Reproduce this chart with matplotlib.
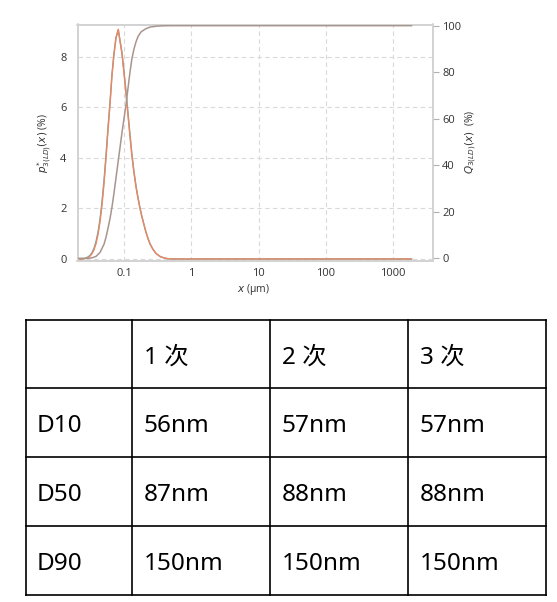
import matplotlib
matplotlib.use("Agg")
import matplotlib.pyplot as plt
from matplotlib.lines import Line2D

# ---------------- data ----------------
pdf_x = [0.0204, 0.02342, 0.02508, 0.02687, 0.02877, 0.03082, 0.03301, 0.03536,
         0.03787, 0.04055, 0.04345, 0.04652, 0.04983, 0.05338, 0.05717, 0.06122,
         0.06557, 0.07024, 0.07522, 0.08139, 0.08629, 0.09240, 0.09897, 0.1060,
         0.1135, 0.1216, 0.1303, 0.1395, 0.1494, 0.1600, 0.1714, 0.1836, 0.1966,
         0.2106, 0.2256, 0.2415, 0.2677, 0.2969, 0.3404, 0.3906, 0.4480, 0.5141,
         1.0, 10.0, 100.0, 1000.0, 1900.0]
pdf_run1 = [0.0, 0.0, 0.01, 0.03, 0.06, 0.11, 0.21, 0.36,
            0.60, 0.96, 1.46, 2.13, 2.97, 3.98, 5.09, 6.10,
            7.25, 8.10, 8.75, 9.08, 8.62, 8.10, 7.35, 6.55,
            5.70, 4.85, 4.05, 3.40, 2.85, 2.40, 2.00, 1.65, 1.35,
            1.05, 0.80, 0.60, 0.38, 0.22, 0.10, 0.04, 0.01, 0.0,
            0.0, 0.0, 0.0, 0.0, 0.0]
pdf_run2 = [0.0, 0.0, 0.01, 0.04, 0.08, 0.14, 0.25, 0.42,
            0.68, 1.05, 1.56, 2.24, 3.08, 4.08, 5.17, 6.17,
            7.30, 8.12, 8.74, 9.05, 8.65, 8.16, 7.42, 6.63,
            5.78, 4.92, 4.10, 3.45, 2.89, 2.43, 2.02, 1.67, 1.36,
            1.06, 0.81, 0.60, 0.38, 0.22, 0.10, 0.04, 0.01, 0.0,
            0.0, 0.0, 0.0, 0.0, 0.0]

cdf_x = [0.0204, 0.02877, 0.03301, 0.03787, 0.04345, 0.04983, 0.05338, 0.05717,
         0.06122, 0.06557, 0.07024, 0.07522, 0.08056, 0.08629, 0.09240, 0.09897,
         0.1060, 0.1135, 0.1216, 0.1303, 0.1395, 0.1494, 0.1600, 0.1774, 0.2070,
         0.2415, 0.3071, 0.3906, 0.5141, 1.0, 10.0, 100.0, 1000.0, 1900.0]
cdf_vals = [0.0, 0.0, 0.2, 0.8, 2.5, 6.0, 9.0, 12.8,
            17.0, 22.0, 28.0, 34.5, 41.0, 47.5, 54.0, 60.0,
            66.0, 73.0, 80.0, 86.0, 90.0, 93.0, 95.3, 97.3, 98.6,
            99.4, 99.8, 99.95, 100.0, 100.0, 100.0, 100.0, 100.0, 100.0]

x_ticks = [0.1, 1, 10, 100, 1000]
x_tick_labels = ["0.1", "1", "10", "100", "1000"]
left_ticks = [0, 2, 4, 6, 8]
right_ticks = [0, 20, 40, 60, 80, 100]

header = ["", "1 次", "2 次", "3 次"]
row_labels = ["D10", "D50", "D90"]
table_values = [["56nm", "57nm", "57nm"],
                ["87nm", "88nm", "88nm"],
                ["150nm", "150nm", "150nm"]]

# ---------------- figure ----------------
W, H = 557, 602
fig = plt.figure(figsize=(W / 100, H / 100), dpi=100)
plt.rcParams['mathtext.fontset'] = 'dejavusans'

tick_font = "Open Sans"
tick_size = 8
c_orange = "#f4825e"
c_teal = "#4db8b8"
c_cdf = "#a8958e"
c_grid = "#d9d9d9"
c_spine = "#d2d2d2"
c_text = "#333333"

ax_l, ax_r, ax_t, ax_b = 77.5, 432.5, 24.5, 261.0
ax = fig.add_axes([ax_l / W, 1 - ax_b / H, (ax_r - ax_l) / W, (ax_b - ax_t) / H])
ax.set_xscale("log")
ax.set_xlim(0.0201, 3900)
ax.set_ylim(-0.08, 9.27)

ax2 = ax.twinx()
ax2.set_ylim(-1.16, 100.5)

ax.plot(pdf_x, pdf_run2, color=c_teal, lw=1.0, zorder=3)
ax.plot(pdf_x, pdf_run1, color=c_orange, lw=1.0, zorder=4)
ax2.plot(cdf_x, cdf_vals, color=c_cdf, lw=1.1, zorder=3)

ax.set_xticks(x_ticks)
ax.set_xticklabels(x_tick_labels, fontfamily=tick_font, fontsize=tick_size, color=c_text)
ax.xaxis.set_minor_locator(matplotlib.ticker.NullLocator())
ax.set_yticks(left_ticks)
ax.set_yticklabels([str(v) for v in left_ticks], fontfamily=tick_font, fontsize=tick_size, color=c_text)
ax.tick_params(axis="x", length=0, pad=5)
ax.tick_params(axis="y", length=0, pad=8)

ax2.set_yticks(right_ticks)
ax2.set_yticklabels([str(v) for v in right_ticks], fontfamily=tick_font, fontsize=tick_size, color=c_text)
ax2.tick_params(axis="y", length=4, width=0.8, color="#b0b0b0", pad=3)

ax.grid(True, which="major", axis="both", color=c_grid, lw=0.8, ls=(0, (4, 3)))
ax.set_axisbelow(True)
for a in (ax, ax2):
    for s in a.spines.values():
        s.set_color(c_spine)
        s.set_linewidth(1.2)

fig.text(253 / W, 1 - 290 / H, "$x$ (µm)", fontfamily=tick_font, fontsize=tick_size - 0.5,
         ha="center", va="center", color=c_text)
fig.text(45 / W, 1 - 143 / H, "$p^{*}_{3(LD)}(x)$ (%)", fontfamily=tick_font, fontsize=tick_size - 0.5,
         rotation=90, ha="center", va="center", color=c_text)
fig.text(471.5 / W, 1 - 142 / H, "$Q_{3(LD)}(x)$  (%)", fontfamily=tick_font, fontsize=tick_size - 0.5,
         rotation=90, ha="center", va="center", color=c_text)

# ---------------- table ----------------
tax = fig.add_axes([0, 0, 1, 1], zorder=-1)
tax.set_xlim(0, W)
tax.set_ylim(H, 0)
tax.axis("off")

col_edges = [25.5, 132.3, 270.3, 408.3, 546.0]
row_edges = [319.5, 388.3, 457.0, 525.7, 594.5]
for xe in col_edges:
    tax.add_line(Line2D([xe, xe], [row_edges[0], row_edges[-1]], color="black", lw=1.2))
for ye in row_edges:
    tax.add_line(Line2D([col_edges[0], col_edges[-1]], [ye, ye], color="black", lw=1.2))

cells = [header] + [[lab] + vals for lab, vals in zip(row_labels, table_values)]
for r, row in enumerate(cells):
    yc = (row_edges[r] + row_edges[r + 1]) / 2 + 3.5
    for c, txt in enumerate(row):
        if not txt:
            continue
        tax.text(col_edges[c] + 11.5, yc, txt, fontfamily=["Noto Sans", "Noto Sans CJK SC"],
                 fontsize=17.5, ha="left", va="center", color="black")

fig.savefig("out.png", dpi=100)
